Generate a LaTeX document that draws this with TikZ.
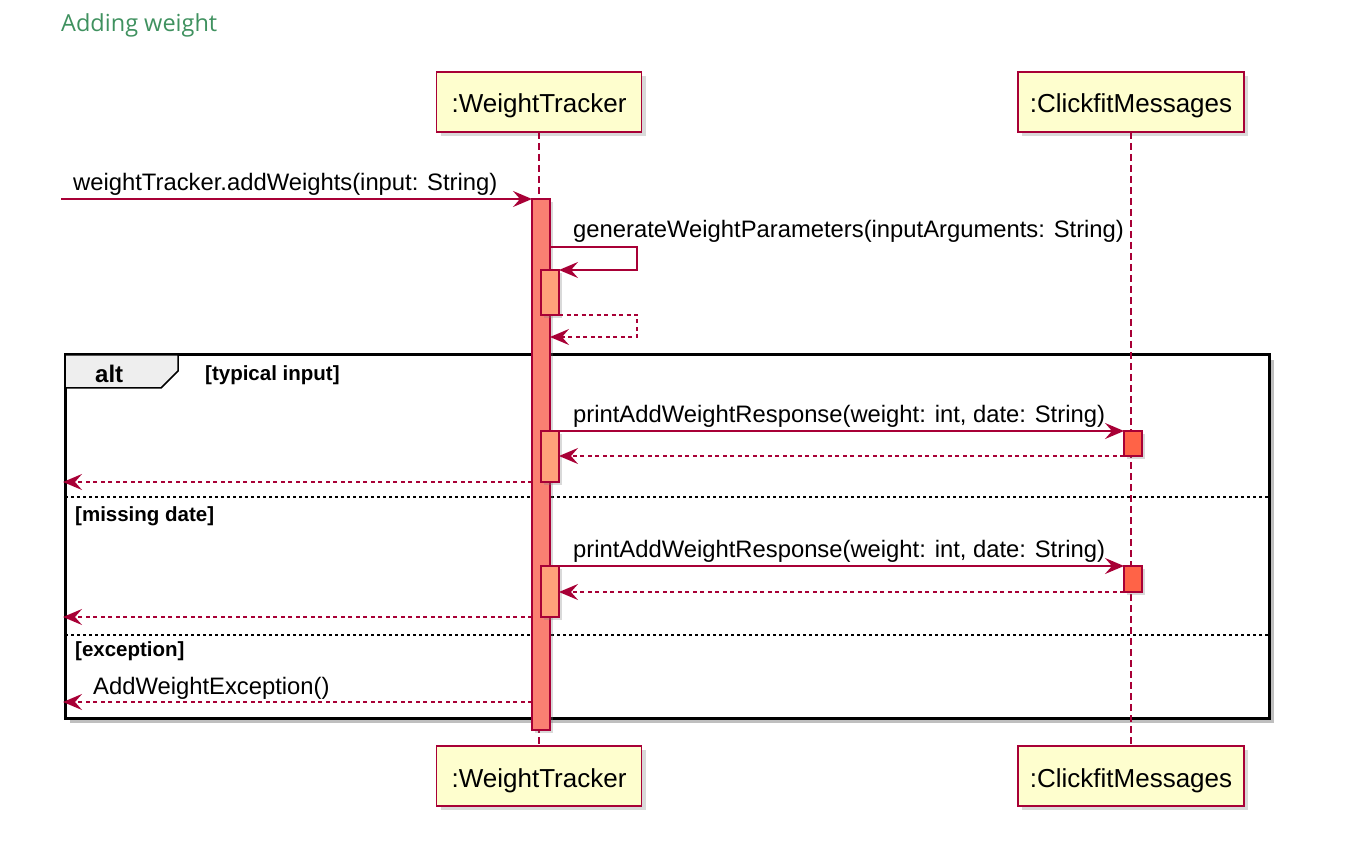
\documentclass[tikz,border=0pt]{standalone}
\usepackage{fontspec}
\setmainfont{Liberation Sans}
\newfontfamily\titlefont{Open Sans}
\usetikzlibrary{arrows.meta,shadows,calc}
\definecolor{plred}{HTML}{A80036}
\definecolor{plyellow}{HTML}{FEFECE}
\definecolor{barmain}{HTML}{FA8072}
\definecolor{barnest}{HTML}{FFA07A}
\definecolor{barclick}{HTML}{FF6347}
\definecolor{titlegreen}{HTML}{3F915F}
\definecolor{tabgray}{HTML}{EEEEEE}
\begin{document}
\begin{tikzpicture}[x=1pt,y=-1pt,
  participant/.style={draw=plred, fill=plyellow, line width=1.8pt, minimum height=60pt, inner sep=0pt, outer sep=0pt,
    text height=22pt, text depth=0pt,
    font=\fontsize{26}{30}\selectfont, drop shadow={shadow xshift=4pt, shadow yshift=-4pt, opacity=0.3}},
  lifeline/.style={draw=plred, line width=1.4pt, dash pattern=on 7pt off 4pt},
  actbox/.style={draw=plred, line width=1.4pt, minimum width=18pt, inner sep=0pt, outer sep=0pt, anchor=north west,
    drop shadow={shadow xshift=3pt, shadow yshift=-3pt, opacity=0.3}},
  msg/.style={draw=plred, line width=1.5pt, -{Stealth[length=19pt,width=16pt,inset=7pt]}},
  ret/.style={msg, dash pattern=on 4pt off 3.5pt},
  lbl/.style={anchor=base west, inner sep=0pt, font=\fontsize{23.8}{28}\selectfont},
  guard/.style={anchor=base west, inner sep=0pt, font=\bfseries\fontsize{20.5}{24}\selectfont},
  sepline/.style={draw=black, line width=1.2pt, dash pattern=on 3pt off 3pt}
]
\useasboundingbox (0,0) rectangle (1350,842);

% title
\node[anchor=base west, inner sep=0pt, font=\titlefont\fontsize{23.5}{28}\selectfont, text=titlegreen] (title) at (61,32) {Adding weight};

% alt frame
\draw[line width=3pt, black!25] (70,721.5) -- (1272.5,721.5) -- (1272.5,360);
\draw[line width=3pt, black] (65,355) rectangle (1269,718);
\draw[line width=1.5pt, fill=tabgray] (65,355) -- (178,355) -- (178,371) -- (161,388) -- (65,388) -- cycle;
\node[anchor=base west, inner sep=0pt, font=\bfseries\fontsize{24}{28}\selectfont] (alt) at (95,382) {alt};
\node[guard] (g1) at (205,381) {[typical input]};
\draw[sepline] (65,497) -- (1269,497);
\node[guard] (g2) at (75,521) {[missing date]};
\draw[sepline] (65,635) -- (1269,635);
\node[guard] (g3) at (75,656) {[exception]};

% participants
\node[participant, minimum width=205pt] (wtTop) at (539,102) {:WeightTracker};
\node[participant, minimum width=226pt] (cmTop) at (1131,102) {:ClickfitMessages};
\node[participant, minimum width=205pt] (wtBot) at (539,776) {:WeightTracker};
\node[participant, minimum width=226pt] (cmBot) at (1131,776) {:ClickfitMessages};
\draw[lifeline] (wtTop.south) -- (wtBot.north);
\draw[lifeline] (cmTop.south) -- (cmBot.north);

% activations
\node[actbox, fill=barmain, minimum height=531pt] (bar) at (532,199) {};
\node[actbox, fill=barnest, minimum height=45pt] (n1) at (541,270) {};
\node[actbox, fill=barnest, minimum height=51pt] (n2) at (541,431) {};
\node[actbox, fill=barnest, minimum height=51pt] (n3) at (541,566) {};
\node[actbox, fill=barclick, minimum height=25pt] (c1) at (1124,431) {};
\node[actbox, fill=barclick, minimum height=26pt] (c2) at (1124,566) {};

% coordinates
\coordinate (src) at (61,199);
\coordinate (loopA) at (637,247);
\coordinate (loopB) at (637,270);
\coordinate (loopC) at (637,315);
\coordinate (loopD) at (637,337);
\coordinate (out1) at (63,482);
\coordinate (out2) at (63,617);
\coordinate (out3) at (63,702);

% messages
\draw[msg] (src) -- (bar.north west);
\node[lbl] (m1) at (73,191) {weightTracker.addWeights(input: String)};

\draw[msg] (bar.east |- loopA) -- (loopA) -- (loopB) -- (n1.north east);
\node[lbl] (m2) at (573,238) {generateWeightParameters(inputArguments: String)};
\draw[ret] (n1.south east) -- (loopC) -- (loopD) -- (bar.east |- loopD);

\draw[msg] (n2.north east) -- (c1.north west);
\node[lbl] (m3) at (573,422) {printAddWeightResponse(weight: int, date: String)};
\draw[ret] (c1.south west) -- (n2.east |- c1.south west);
\draw[ret] (bar.west |- out1) -- (out1);

\draw[msg] (n3.north east) -- (c2.north west);
\node[lbl] (m4) at (573,557) {printAddWeightResponse(weight: int, date: String)};
\draw[ret] (c2.south west) -- (n3.east |- c2.south west);
\draw[ret] (bar.west |- out2) -- (out2);

\draw[ret] (bar.west |- out3) -- (out3);
\node[lbl] (m5) at (93,694) {AddWeightException()};
\end{tikzpicture}
\end{document}
